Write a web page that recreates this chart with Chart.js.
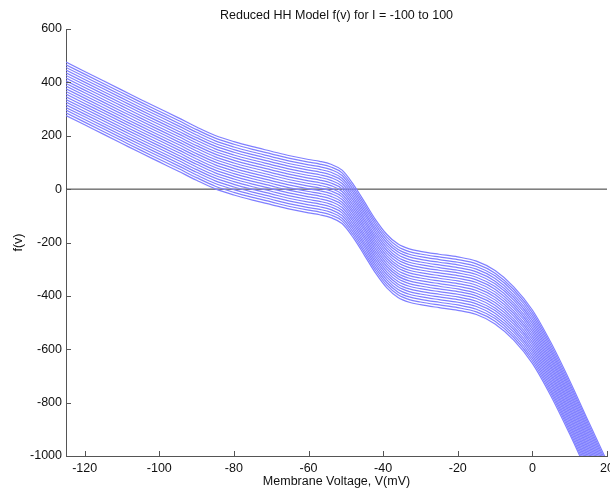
<!DOCTYPE html>
<html><head><meta charset="utf-8">
<script src="https://cdn.jsdelivr.net/npm/chart.js@4.4.1/dist/chart.umd.min.js"></script>
<style>html,body{margin:0;padding:0;background:#fff;}#wrap{width:610px;height:493px;}</style>
</head><body><div id="wrap"><canvas id="c" width="610" height="493"></canvas></div>
<script>
const titleText = 'Reduced HH Model f(v) for I = -100 to 100';
const xTitle = 'Membrane Voltage, V(mV)';
const yTitle = 'f(v)';
// membrane voltages (mV) at which the curves were read
const voltages = [-125,-120,-115,-110,-105,-100,-95,-90,-85,-80,-75,-70,-65,-60,-57,-54,-51,-48,-45,-42,-39,-36,-33,-30,-25,-20,-15,-10,-5,0,5,10,15,20];
// f(v) for I = 0 (middle of the band)
const fBase = [376,341,306,271,236,202,168,133,101,78,59,42,25,11,4,-7,-29,-82,-148,-215,-270,-306,-324,-333,-344,-354,-370,-405,-466,-553,-676,-818,-970,-1120];
// injected currents, one curve each
const currents = [-100,-90,-80,-70,-60,-50,-40,-30,-20,-10,0,10,20,30,40,50,60,70,80,90,100];
const xTicks = [-120,-100,-80,-60,-40,-20,0,20];
const yTicks = [-1000,-800,-600,-400,-200,0,200,400,600];
const zeroLineX = [-125, 20];
const zeroLineY = [0, 0];

const FONT = '"Liberation Sans", Arial, sans-serif';
const FS = 12.5;

const datasets = currents.map(I => ({
  data: voltages.map((v, i) => ({x: v, y: fBase[i] + I})),
  borderColor: '#7f7fff',
  borderWidth: 1.2,
  pointRadius: 0,
  fill: false,
  cubicInterpolationMode: 'monotone',
  order: 0
}));
datasets.push({
  data: zeroLineX.map((v, i) => ({x: v, y: zeroLineY[i]})),
  borderColor: '#333333',
  borderWidth: 1,
  pointRadius: 0,
  fill: false,
  order: 1
});

const deco = {
  id: 'deco',
  afterDraw(chart) {
    const {ctx, chartArea: a, scales: {x, y}} = chart;
    ctx.save();
    ctx.strokeStyle = '#555';
    ctx.lineWidth = 1;
    ctx.beginPath();
    xTicks.forEach(v => {
      const px = Math.round(x.getPixelForValue(v)) + 0.5;
      ctx.moveTo(px, a.bottom); ctx.lineTo(px, a.bottom - 5);
    });
    yTicks.forEach(v => {
      const py = Math.round(y.getPixelForValue(v)) + 0.5;
      ctx.moveTo(a.left, py); ctx.lineTo(a.left + 5, py);
    });
    ctx.stroke();
    ctx.fillStyle = '#111';
    ctx.font = FS + 'px ' + FONT;
    ctx.textAlign = 'center';
    ctx.textBaseline = 'middle';
    ctx.fillText(titleText, (a.left + a.right) / 2, 16);
    ctx.restore();
  }
};

new Chart(document.getElementById('c'), {
  type: 'line',
  data: {datasets},
  options: {
    responsive: false,
    animation: false,
    devicePixelRatio: 1,
    layout: {padding: {left: 0, right: 3, top: 29, bottom: 0}},
    plugins: {legend: {display: false}, tooltip: {enabled: false}, title: {display: false}},
    scales: {
      x: {
        type: 'linear', min: -125, max: 20,
        afterBuildTicks: s => { s.ticks = xTicks.map(v => ({value: v})); },
        afterFit: s => { s.height = 37; s.paddingLeft = 0; s.paddingRight = 0; },
        grid: {display: false, drawTicks: false},
        border: {display: true, color: '#555', width: 1},
        ticks: {padding: 5, color: '#111', font: {family: FONT, size: FS}, maxRotation: 0, autoSkip: false, callback: v => String(v)},
        title: {display: true, text: xTitle, color: '#111', font: {family: FONT, size: FS}, padding: {top: 0, bottom: 4}}
      },
      y: {
        type: 'linear', min: -1000, max: 600,
        afterBuildTicks: s => { s.ticks = yTicks.map(v => ({value: v})); },
        afterFit: s => { s.width = 66; },
        grid: {display: false, drawTicks: false},
        border: {display: true, color: '#555', width: 1},
        ticks: {padding: 4, color: '#111', font: {family: FONT, size: FS}, autoSkip: false, callback: v => String(v)},
        title: {display: true, text: yTitle, color: '#111', font: {family: FONT, size: FS}, padding: {top: 11, bottom: 0}}
      }
    }
  },
  plugins: [deco]
});
</script></body></html>
